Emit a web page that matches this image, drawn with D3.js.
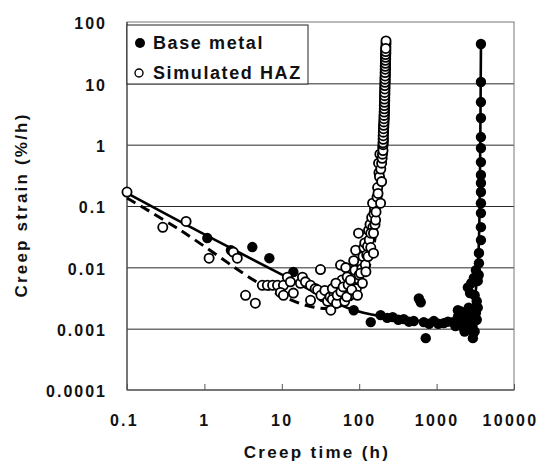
<!DOCTYPE html>
<html>
<head>
<meta charset="utf-8">
<script src="https://cdn.jsdelivr.net/npm/d3@7"></script>
<style>
  body { margin: 0; background: #fff; }
  text { font-family: "Liberation Sans", Arial, sans-serif; font-weight: bold; fill: #111; }
</style>
</head>
<body>
<svg id="chart" width="547" height="464"></svg>
<script>
// creep rate data: [time (h), strain rate (%/h)]
var baseMetal = [
  [1.09, 0.030], [2.2, 0.019], [4.16, 0.0214], [6.9, 0.0141], [14.1, 0.0084],
  [85, 0.002], [141, 0.00128], [189, 0.00166], [230, 0.0015], [271, 0.00154],
  [320, 0.0014], [376, 0.00143], [440, 0.0013], [507, 0.00133], [590, 0.0031],
  [624, 0.0027], [682, 0.00128], [724, 0.0007], [800, 0.0012], [920, 0.00133],
  [1050, 0.0012], [1240, 0.00123], [1400, 0.0013], [1622, 0.00128], [1750, 0.0011],
  [1884, 0.002], [2000, 0.0014], [2100, 0.0011], [2185, 0.0018], [2300, 0.0009],
  [2390, 0.0012], [2535, 0.0015], [2600, 0.0022], [2700, 0.0011], [2773, 0.00095],
  [2943, 0.0007], [3033, 0.0013], [3220, 0.0018], [2535, 0.0047], [2800, 0.0055],
  [1900, 0.0016], [2050, 0.0019], [2200, 0.0013], [2450, 0.0019], [2650, 0.0017],
  [2900, 0.0011], [3100, 0.0009], [3300, 0.0014], [3400, 0.0022], [3300, 0.0028],
  [3100, 0.0035], [2700, 0.0038], [3400, 0.006], [3500, 0.0075],
  [3030, 0.0067], [3220, 0.009], [3524, 0.0117], [3524, 0.0171], [3740, 0.0278],
  [3740, 0.0452], [3740, 0.0766], [3740, 0.111], [3740, 0.169], [3740, 0.237],
  [3740, 0.32], [3740, 0.52], [3740, 0.88], [3740, 1.33], [3740, 2.72],
  [3740, 4.95], [3740, 10.5], [3740, 43.8]
];

var simulatedHAZ = [
  [0.1, 0.169], [0.29, 0.045], [0.58, 0.056], [1.15, 0.0141], [2.36, 0.0177],
  [2.66, 0.0141], [3.4, 0.0035], [4.55, 0.0026], [5.6, 0.0051], [6.5, 0.0051],
  [7.6, 0.0051], [8.8, 0.0051], [10.5, 0.0051], [9.6, 0.0039], [10.5, 0.0035],
  [11.8, 0.0069], [12.9, 0.0058], [14.1, 0.0038], [17.4, 0.0055], [18.5, 0.0069],
  [20.2, 0.0058], [23.5, 0.0051], [23.5, 0.0029], [27, 0.0045], [29, 0.0043],
  [31.6, 0.0092], [34, 0.0033], [37, 0.0038], [40, 0.0039], [43, 0.002],
  [32, 0.0035], [36, 0.0042], [39, 0.0028], [42, 0.0033], [47, 0.0038],
  [45, 0.003], [51, 0.0026], [55, 0.0046], [57.4, 0.0109], [60, 0.0062],
  [45, 0.0045], [50, 0.0055], [52, 0.0035], [58, 0.004], [62, 0.0048],
  [65, 0.0028], [70, 0.007], [75, 0.0035], [82, 0.0058], [88, 0.009],
  [92, 0.0045], [96, 0.0065], [105, 0.012], [108, 0.0095], [112, 0.015],
  [67, 0.0099], [69, 0.0033], [72, 0.0052], [77, 0.0062], [80, 0.0043],
  [85, 0.0128], [90, 0.019], [95, 0.0035], [98, 0.036], [100, 0.0075],
  [104, 0.008], [110, 0.0055], [115, 0.021], [120, 0.011], [125, 0.016],
  [118, 0.025], [122, 0.0085], [128, 0.022], [132, 0.04], [138, 0.05],
  [145, 0.065], [150, 0.045], [155, 0.075], [158, 0.09], [168, 0.12],
  [130, 0.015], [135, 0.028], [141, 0.021], [141, 0.036], [149, 0.111],
  [153, 0.036], [153, 0.017], [160, 0.05], [163, 0.059], [165, 0.08],
  [170, 0.14], [173, 0.2], [178, 0.5], [180, 0.35], [185, 0.7],
  [175, 0.16], [183, 0.3], [190, 0.4], [195, 0.5], [198, 0.6],
  [189, 0.111], [195, 0.25], [200, 0.7], [201, 0.91], [203, 0.8],
  [204, 1.0], [205, 1.15], [205, 1.3], [206, 1.5], [207, 1.7],
  [208, 1.95], [209, 2.2], [210, 2.5], [211, 2.8], [212, 3.2],
  [212, 3.6], [213, 4.1], [213, 4.6], [214, 5.2], [214, 5.9],
  [215, 6.7], [215, 7.6], [216, 8.6], [216, 9.8], [217, 11],
  [217, 12.5], [218, 14], [218, 16], [219, 18], [219, 20],
  [219, 22.5], [220, 25], [220, 28], [221, 31], [221, 35],
  [221, 39], [222, 44], [222, 49],
  [203, 1.07], [204, 1.22], [204, 1.4], [205, 1.6], [206, 1.82],
  [207, 2.07], [208, 2.35], [209, 2.65], [209, 3.0], [210, 3.4],
  [211, 3.85], [211, 4.35], [212, 4.9], [212, 5.55], [213, 6.3],
  [213, 7.1], [214, 8.1], [214, 9.2], [215, 10.4], [215, 11.7],
  [216, 13.2], [216, 15], [217, 17], [217, 19], [218, 21.2],
  [218, 23.7], [219, 26.5], [219, 29.5], [220, 33], [220, 37]
];

// fitted curves
var baseFit = [
  [0.1, 0.162], [0.88, 0.0375], [9.6, 0.0078], [31.6, 0.0035], [77, 0.0021],
  [189, 0.0016], [624, 0.00133], [1528, 0.00128], [2390, 0.00148], [2943, 0.0024],
  [3320, 0.0062], [3524, 0.028], [3630, 0.265], [3700, 5.3], [3740, 38]
];
var hazFit = [
  [0.1, 0.135], [0.486, 0.0405], [4.16, 0.0064], [9.6, 0.0035], [23.5, 0.0023],
  [49.5, 0.0022], [90, 0.0035], [130, 0.009], [163, 0.034], [189, 0.18],
  [207, 1.7], [220, 35]
];

var xTicks = [0.1, 1, 10, 100, 1000, 10000];
var yTicks = [0.0001, 0.001, 0.01, 0.1, 1, 10, 100];
var gridValues = [0.001, 0.01, 0.1, 1, 10];
var seriesNames = ["Base metal", "Simulated HAZ"];

var svg = d3.select("#chart");
var plotLeft = 127, plotRight = 514, plotTop = 22, plotBottom = 390;

var x = d3.scaleLog().domain([0.1, 10000]).range([plotLeft, plotRight]);
var y = d3.scaleLog().domain([0.0001, 100]).range([plotBottom, plotTop]);

var fmt = function (d) { return String(d); };

// horizontal grid
svg.append("g")
    .attr("transform", "translate(" + plotLeft + ",0)")
    .call(d3.axisLeft(y).tickValues(gridValues).tickSize(-(plotRight - plotLeft)).tickFormat(""))
    .call(function (g) {
        g.select(".domain").remove();
        g.selectAll("line").attr("stroke", "#2a2a2a").attr("stroke-width", 1);
    });

// frame
svg.append("rect")
    .attr("x", plotLeft).attr("y", plotTop)
    .attr("width", plotRight - plotLeft).attr("height", plotBottom - plotTop)
    .attr("fill", "none").attr("stroke", "#777").attr("stroke-width", 1);
svg.append("path")
    .attr("d", "M" + plotLeft + "," + plotTop + "V" + plotBottom + "H" + plotRight)
    .attr("fill", "none").attr("stroke", "#333").attr("stroke-width", 1);

// x axis
var xAxis = svg.append("g")
    .attr("transform", "translate(0," + plotBottom + ")")
    .call(d3.axisBottom(x).tickValues(xTicks).tickSize(-6).tickPadding(25).tickFormat(fmt));
xAxis.select(".domain").remove();
xAxis.selectAll("line").attr("stroke", "#555");
xAxis.selectAll("text")
    .attr("font-size", 16).attr("letter-spacing", 2.3)
    .attr("fill", "#111")
    .attr("dx", function (d) { return d === 10000 ? -4 : (d === 0.1 ? -3 : 0); });

// y axis
var yAxis = svg.append("g")
    .attr("transform", "translate(" + plotLeft + ",0)")
    .call(d3.axisLeft(y).tickValues(yTicks).tickSize(0).tickPadding(20).tickFormat(fmt));
yAxis.select(".domain").remove();
yAxis.selectAll("text")
    .attr("font-size", 16).attr("letter-spacing", 2)
    .attr("fill", "#111")
    .attr("dy", "0.42em");

// axis titles
svg.append("text")
    .attr("x", 317).attr("y", 458)
    .attr("text-anchor", "middle")
    .attr("font-size", 17).attr("letter-spacing", 2.3)
    .text("Creep time (h)");
svg.append("text")
    .attr("transform", "translate(27,205) rotate(-90)")
    .attr("text-anchor", "middle")
    .attr("font-size", 17).attr("letter-spacing", 2.2)
    .text("Creep strain (%/h)");

var line = d3.line()
    .x(function (d) { return x(d[0]); })
    .y(function (d) { return y(d[1]); })
    .curve(d3.curveCatmullRom.alpha(0.5));

// base metal points
svg.append("g").selectAll("circle")
    .data(baseMetal).enter().append("circle")
    .attr("cx", function (d) { return x(d[0]); })
    .attr("cy", function (d) { return y(d[1]); })
    .attr("r", 5.2)
    .attr("fill", "#000");

svg.append("path")
    .datum(baseFit)
    .attr("d", line)
    .attr("fill", "none").attr("stroke", "#000").attr("stroke-width", 2.6);

svg.append("path")
    .datum(hazFit)
    .attr("d", line)
    .attr("fill", "none").attr("stroke", "#000").attr("stroke-width", 3)
    .attr("stroke-dasharray", "10,6");

// HAZ points
svg.append("g").selectAll("circle")
    .data(simulatedHAZ).enter().append("circle")
    .attr("cx", function (d) { return x(d[0]); })
    .attr("cy", function (d) { return y(d[1]); })
    .attr("r", 4.6)
    .attr("fill", "#fff")
    .attr("stroke", "#000")
    .attr("stroke-width", 1.8);

// legend
var legend = svg.append("g");
legend.append("rect")
    .attr("x", plotLeft).attr("y", 25).attr("width", 181).attr("height", 59)
    .attr("fill", "#fff").attr("stroke", "#222").attr("stroke-width", 1);
legend.append("circle").attr("cx", 140).attr("cy", 43).attr("r", 5).attr("fill", "#000");
legend.append("circle").attr("cx", 139).attr("cy", 73).attr("r", 4)
    .attr("fill", "#fff").attr("stroke", "#000").attr("stroke-width", 1.4);
legend.selectAll("text.lg")
    .data(seriesNames).enter().append("text")
    .attr("class", "lg")
    .attr("x", 153)
    .attr("y", function (d, i) { return 49 + i * 30; })
    .attr("font-size", 18).attr("letter-spacing", 1.6)
    .text(function (d) { return d; });
</script>
</body>
</html>
